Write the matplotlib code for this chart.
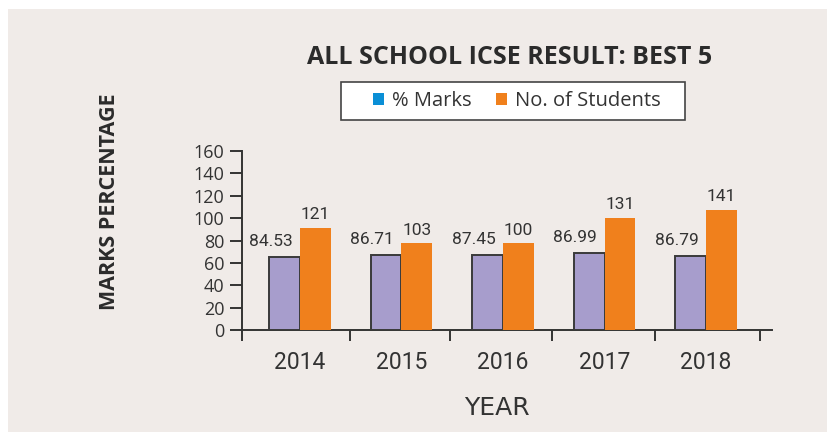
import matplotlib
matplotlib.use("Agg")
import matplotlib.pyplot as plt
from matplotlib.patches import Rectangle, Patch
import numpy as np

years = ["2014", "2015", "2016", "2017", "2018"]
marks_labels = ["84.53", "86.71", "87.45", "86.99", "86.79"]
students_labels = ["121", "103", "100", "131", "141"]
# bar heights as drawn in the reference (on the 0-160 axis)
marks_bar = [65.0, 67.0, 66.8, 68.8, 66.2]
students_bar = [91.3, 77.6, 77.4, 100.5, 107.7]
yticks = [0, 20, 40, 60, 80, 100, 120, 140, 160]

NARROW = ["Roboto", "DejaVu Sans"]
REG = ["Open Sans", "DejaVu Sans"]

fig = plt.figure(figsize=(8.28, 4.32), dpi=100)
fig.patch.set_facecolor("white")
fig.patches.append(Rectangle((8 / 828, 0), 1, 1 - 9 / 432, transform=fig.transFigure,
                             facecolor="#f0ebe8", edgecolor="none", zorder=-10))

ax = fig.add_axes([242 / 828, 102 / 432, 530 / 828, 179 / 432])
ax.set_facecolor("none")

x = np.arange(len(years))
w = 0.302
ax.bar(x - w / 2, marks_bar, width=w, color="#a79dcc", edgecolor="#3a3a3a", linewidth=1.4, zorder=3)
ax.bar(x + w / 2, students_bar, width=w, color="#f0801c", edgecolor="none", zorder=3)

for i in range(len(years)):
    ax.annotate(marks_labels[i], (x[i] - w / 2, marks_bar[i]), xytext=(-10, 6),
                textcoords="offset points", ha="center", va="bottom",
                fontsize=12.5, family=NARROW, color="#333333")
    ax.annotate(students_labels[i], (x[i] + w / 2, students_bar[i]), xytext=(0, 4),
                textcoords="offset points", ha="center", va="bottom",
                fontsize=12.5, family=NARROW, color="#333333")

ax.set_xlim(-0.571, 4.65)
ax.set_ylim(0, 160)
ax.set_yticks(yticks)
ax.set_yticklabels([str(v) for v in yticks], family=REG, fontsize=13, color="#333333")
ax.set_xticks(x)
ax.set_xticklabels(years, family=NARROW, fontsize=16.5, color="#333333")
ax.tick_params(axis="x", length=0, pad=15)
ax.set_xticks([-0.571, 0.49, 1.48, 2.48, 3.5, 4.53], minor=True)
ax.tick_params(axis="x", which="minor", length=8, width=1.4, color="#333333", direction="out")
ax.tick_params(axis="y", length=8.5, width=1.4, color="#333333", direction="out", pad=4)

for s in ["top", "right"]:
    ax.spines[s].set_visible(False)
for s in ["left", "bottom"]:
    ax.spines[s].set_color("#333333")
    ax.spines[s].set_linewidth(1.4)

fig.text(510 / 828, 1 - 57 / 432, "ALL SCHOOL ICSE RESULT: BEST 5", ha="center", va="center",
         fontsize=18, fontweight="bold", family=["Open Sans", "DejaVu Sans"], color="#2b2b2b")
fig.text(497 / 828, 1 - 408 / 432, "YEAR", ha="center", va="center",
         fontsize=18, family=["DejaVu Sans"], color="#333333")
fig.text(110 / 828, 1 - 202 / 432, "MARKS PERCENTAGE", ha="center", va="center", rotation=90,
         fontsize=15.5, fontweight="bold", family=["Open Sans", "DejaVu Sans"], color="#2b2b2b")

# legend box
fig.patches.append(Rectangle((341 / 828, 1 - 120 / 432), 344 / 828, 38 / 432,
                             transform=fig.transFigure, facecolor="white",
                             edgecolor="#444444", linewidth=1.2, zorder=1))
handles = [Patch(facecolor="#0a8fd6", edgecolor="none"), Patch(facecolor="#f0801c", edgecolor="none")]
leg = fig.legend(handles, ["% Marks", "No. of Students"], loc="center", ncol=2,
                 bbox_to_anchor=(517 / 828, 1 - 101 / 432), frameon=False,
                 prop={"family": REG, "size": 14.5}, handlelength=0.55, handleheight=0.55,
                 handletextpad=0.4, columnspacing=1.2, borderpad=0.2, labelcolor="#333333")
leg.set_zorder(5)

fig.savefig("out.png", dpi=100, facecolor=fig.get_facecolor())
